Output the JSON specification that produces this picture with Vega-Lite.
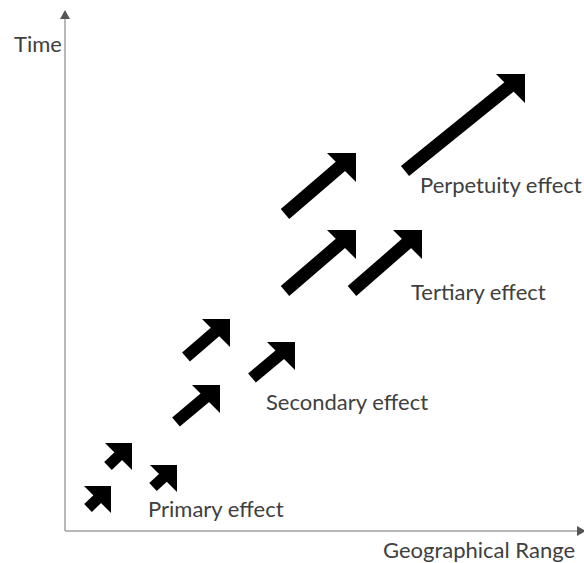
{
  "$schema": "https://vega.github.io/schema/vega-lite/v6.json",
  "width": 584,
  "height": 563,
  "padding": 0,
  "autosize": {"type": "none"},
  "background": "white",
  "config": {"view": {"stroke": null}},
  "datasets": {
    "axes": [
      {"x": 0, "y": 0, "x2": 513, "y2": 0},
      {"x": 0, "y": 0, "x2": 0, "y2": 512}
    ],
    "axisHeads": [
      {"x": 0, "y": 521, "dir": "up"},
      {"x": 521, "y": 0, "dir": "right"}
    ],
    "arrows": [
      {"id": 1, "cls": "small", "x": 23, "y": 23, "nx": 38.0, "ny": 37.4, "tx": 46, "ty": 45},
      {"id": 2, "cls": "small", "x": 43, "y": 65, "nx": 59.1, "ny": 80.4, "tx": 67, "ty": 88},
      {"id": 3, "cls": "small", "x": 88, "y": 44, "nx": 103.9, "ny": 58.6, "tx": 112, "ty": 66},
      {"id": 4, "cls": "medium", "x": 111, "y": 109, "nx": 145.1, "ny": 137.6, "tx": 155, "ty": 146},
      {"id": 5, "cls": "medium", "x": 121, "y": 174, "nx": 155.2, "ny": 203.5, "tx": 165, "ty": 212},
      {"id": 6, "cls": "medium", "x": 187, "y": 153, "nx": 220, "ny": 180.7, "tx": 230, "ty": 189},
      {"id": 7, "cls": "big", "x": 220, "y": 240, "nx": 281.1, "ny": 292.5, "tx": 291, "ty": 301},
      {"id": 8, "cls": "big", "x": 287, "y": 240, "nx": 347.2, "ny": 292.5, "tx": 357, "ty": 301},
      {"id": 9, "cls": "big", "x": 220, "y": 317, "nx": 281.1, "ny": 369.5, "tx": 291, "ty": 378},
      {"id": 10, "cls": "big", "x": 340, "y": 360, "nx": 449.9, "ny": 448.8, "tx": 460, "ty": 457}
    ],
    "labels": [
      {"x": -51, "y": 486, "text": "Time"},
      {"x": 318, "y": -20, "text": "Geographical Range"},
      {"x": 83, "y": 21, "text": "Primary effect"},
      {"x": 201, "y": 128, "text": "Secondary effect"},
      {"x": 346, "y": 238, "text": "Tertiary effect"},
      {"x": 355, "y": 345, "text": "Perpetuity effect"}
    ]
  },
  "layer": [
    {
      "data": {"name": "axes"},
      "mark": {"type": "rule", "color": "#a0a0a0", "strokeWidth": 1.5},
      "encoding": {
        "x": {"field": "x", "type": "quantitative", "scale": {"domain": [-65, 519]}, "axis": null},
        "y": {"field": "y", "type": "quantitative", "scale": {"domain": [-32, 531]}, "axis": null},
        "x2": {"field": "x2"},
        "y2": {"field": "y2"}
      }
    },
    {
      "data": {"name": "axisHeads"},
      "mark": {"type": "point", "filled": true, "color": "#555555", "opacity": 1, "size": 100, "strokeWidth": 0},
      "encoding": {
        "x": {"field": "x", "type": "quantitative", "scale": {"domain": [-65, 519]}, "axis": null},
        "y": {"field": "y", "type": "quantitative", "scale": {"domain": [-32, 531]}, "axis": null},
        "shape": {"field": "dir", "type": "nominal", "legend": null,
          "scale": {"domain": ["up", "right"], "range": ["M0,0 L-1,1.8 L1,1.8 Z", "M0,0 L-1.8,-1 L-1.8,1 Z"]}}
      }
    },
    {
      "data": {"name": "arrows"},
      "mark": {"type": "rule", "color": "black", "strokeCap": "butt"},
      "encoding": {
        "x": {"field": "x", "type": "quantitative", "scale": {"domain": [-65, 519]}, "axis": null},
        "y": {"field": "y", "type": "quantitative", "scale": {"domain": [-32, 531]}, "axis": null},
        "x2": {"field": "nx"},
        "y2": {"field": "ny"},
        "strokeWidth": {"field": "cls", "type": "nominal", "legend": null,
          "scale": {"domain": ["small", "medium", "big"], "range": [11, 13, 14]}}
      }
    },
    {
      "data": {"name": "arrows"},
      "mark": {"type": "point", "filled": true, "color": "black", "opacity": 1, "strokeWidth": 0, "shape": "M0,0 L-2,0 L0,2 Z"},
      "encoding": {
        "x": {"field": "tx", "type": "quantitative", "scale": {"domain": [-65, 519]}, "axis": null},
        "y": {"field": "ty", "type": "quantitative", "scale": {"domain": [-32, 531]}, "axis": null},
        "size": {"field": "cls", "type": "nominal", "legend": null,
          "scale": {"domain": ["small", "medium", "big"], "range": [729, 841, 961]}}
      }
    },
    {
      "data": {"name": "labels"},
      "mark": {"type": "text", "align": "left", "baseline": "middle", "font": "Lato", "fontSize": 22, "color": "#404040"},
      "encoding": {
        "x": {"field": "x", "type": "quantitative", "scale": {"domain": [-65, 519]}, "axis": null},
        "y": {"field": "y", "type": "quantitative", "scale": {"domain": [-32, 531]}, "axis": null},
        "text": {"field": "text"}
      }
    }
  ]
}
